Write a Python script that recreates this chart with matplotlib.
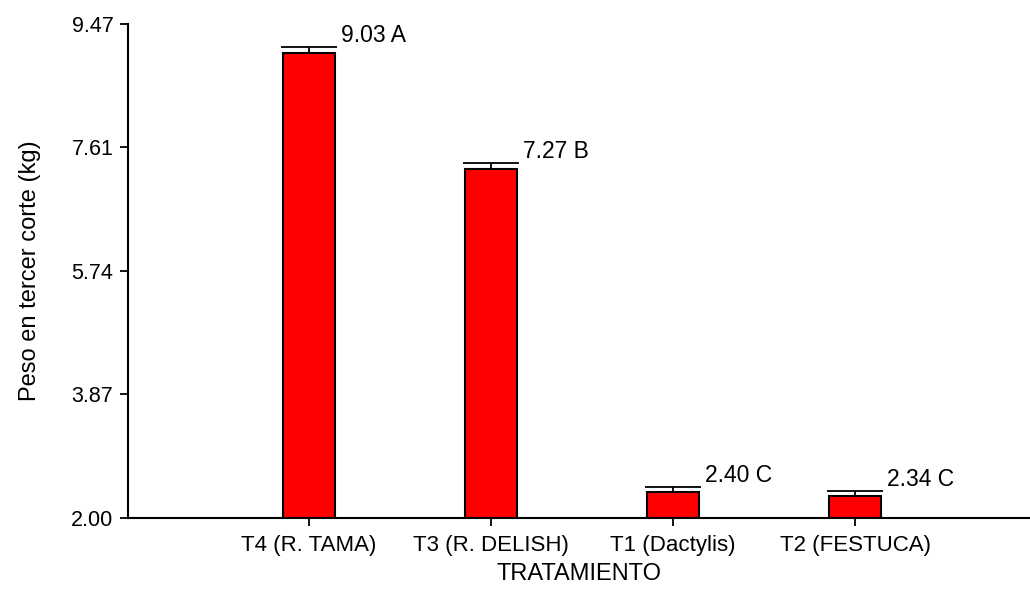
import numpy as np
import matplotlib.pyplot as plt

plt.rcParams["font.family"] = ["Liberation Sans", "DejaVu Sans"]

# Data
tratamientos = ["T4 (R. TAMA)", "T3 (R. DELISH)", "T1 (Dactylis)", "T2 (FESTUCA)"]
peso = [9.03, 7.27, 2.40, 2.34]
error = [0.09, 0.10, 0.07, 0.07]
letras = ["A", "B", "C", "C"]
yticks = [2.00, 3.8675, 5.735, 7.6025, 9.47]
yticklabels = ["2.00", "3.87", "5.74", "7.61", "9.47"]
ymin, ymax = 2.00, 9.47

# Plotting
fig = plt.figure(figsize=(10.3, 5.89), dpi=100)
ax = fig.add_axes([0.1243, 0.1205, 0.8757, 0.8395])

x = np.arange(1, len(peso) + 1)
alturas = np.array(peso) - ymin
ax.bar(x, alturas, bottom=ymin, width=0.286, color="#ff0000",
       edgecolor="black", linewidth=1.5, zorder=2)

eb = ax.errorbar(x, peso, yerr=[np.zeros(len(error)), error], fmt="none",
                 ecolor="black", elinewidth=1.3, capsize=20, capthick=1.3,
                 zorder=3)
eb[1][0].set_visible(False)  # solo la barra superior

for xi, p, e, l in zip(x, peso, error, letras):
    ax.annotate("%.2f %s" % (p, l), xy=(xi, p + e), xytext=(23, 3.5),
                textcoords="offset points", ha="left", va="baseline",
                fontsize=16.5)

ax.set_xlim(0.0055, 4.96)
ax.set_ylim(ymin, ymax)
ax.set_xticks(x)
ax.set_xticklabels(tratamientos, fontsize=16)
ax.set_yticks(yticks)
ax.set_yticklabels(yticklabels, fontsize=15.5)
ax.tick_params(axis="both", direction="out", length=5.5, width=1.3)
ax.tick_params(axis="x", pad=7)
ax.tick_params(axis="y", pad=5)

ax.spines["top"].set_visible(False)
ax.spines["right"].set_visible(False)
ax.spines["left"].set_linewidth(1.5)
ax.spines["bottom"].set_linewidth(1.5)

ax.set_xlabel("TRATAMIENTO", fontsize=17, labelpad=5)
ax.set_ylabel("Peso en tercer corte (kg)", fontsize=17, labelpad=22)

plt.savefig("out.png", dpi=100)
